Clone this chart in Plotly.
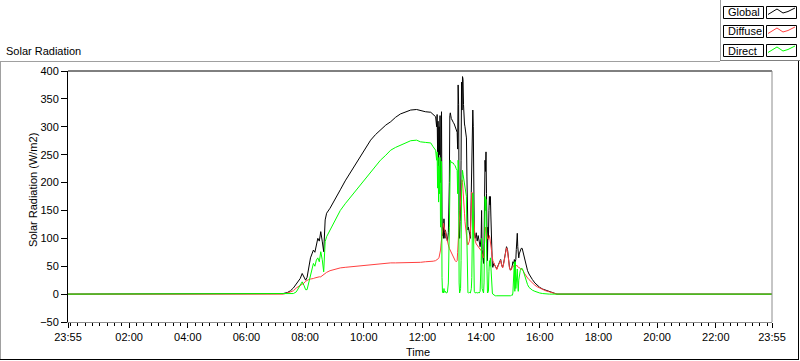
import plotly.graph_objects as go

# time in minutes after midnight (-5 = 23:55 of previous day)
minutes = [-5, 425, 435, 444, 450, 456, 462, 466, 470, 474, 478, 481, 484, 487, 491, 494, 497, 500,
           503, 506, 509, 512, 515, 518, 521, 524, 531, 542, 552, 562, 573, 583, 593, 604, 614, 624,
           634, 645, 655, 665, 675, 686, 696, 708, 716, 726, 737, 742, 747,
           749, 750, 751, 752, 753, 754, 755, 756, 757, 758, 759, 760, 761, 762, 763, 764, 765, 766,
           767, 769, 771, 773, 775, 776, 777, 779, 781, 783, 785, 787, 789, 791, 792, 793, 794, 795,
           796, 797, 798, 799, 800, 801, 802, 803, 804, 805, 806, 807, 808, 809, 810, 811, 812, 813,
           814, 816, 818, 819, 820, 821, 822, 823, 824, 825, 826, 828, 830, 832, 834, 836, 838, 840,
           841, 842, 844, 845, 846, 847, 848, 849, 850, 851, 852, 853, 854, 855, 856, 857, 858, 859,
           860, 861, 862, 863, 864, 866, 869, 872, 875, 878, 880, 882, 884, 886, 888, 890, 892, 894,
           896, 898, 900, 902, 904, 905, 907, 908, 909, 910, 911, 912, 913, 914, 915, 916, 917, 918,
           920, 922, 924, 926, 928, 930, 932, 935, 938, 941, 945, 950, 955, 960, 966, 972, 980, 987,
           995, 1435]

global_rad = [0, 0, 1, 3, 6, 11, 18, 22, 28, 37, 30, 25, 30, 45, 65, 72, 79, 75,
              91, 100, 95, 112, 95, 76, 133, 145, 154, 170, 187, 203, 218, 232, 246, 262, 276, 286,
              295, 303, 309, 317, 323, 327, 330, 331, 329, 327, 326, 322, 318,
              300, 322, 255, 310, 230, 300, 250, 320, 200, 290, 327, 140, 105, 120, 100, 135, 110, 100,
              115, 100, 95, 110, 200, 320, 325, 315, 310, 308, 305, 300, 296, 290, 260, 375, 340, 150,
              100, 130, 160, 240, 380, 330, 390, 385, 340, 310, 305, 300, 295, 290, 280, 210, 140, 115,
              120, 105, 100, 140, 180, 200, 250, 330, 300, 200, 110, 100, 110, 95, 105, 95, 85, 100,
              150, 80, 65, 55, 90, 180, 240, 220, 255, 180, 70, 60, 120, 100, 150, 175, 160, 175,
              140, 100, 60, 50, 48, 55, 50, 45, 52, 58, 62, 52, 48, 55, 65, 78, 85, 80,
              60, 48, 43, 45, 52, 58, 55, 62, 55, 60, 62, 80, 105, 109, 85, 70, 65, 72,
              78, 82, 82, 75, 67, 58, 50, 42, 36, 31, 26, 20, 15, 12, 9, 7, 4, 2,
              0, 0]

diffuse_rad = [0, 0, 0, 2, 4, 6, 11, 13, 15, 18, 20, 23, 25, 26, 27, 27, 28, 29,
               30, 30, 31, 31, 33, 35, 37, 39, 42, 45, 47, 48, 49, 50, 51, 52, 53, 54,
               55, 55, 56, 56, 56, 57, 57, 57, 57, 58, 58, 59, 60,
               61, 62, 62, 63, 64, 66, 70, 73, 79, 90, 100, 110, 118, 125, 127, 122, 118, 112,
               108, 100, 92, 88, 82, 80, 79, 76, 72, 68, 63, 60, 58, 60, 75, 100, 110, 130,
               140, 150, 160, 185, 200, 205, 200, 190, 180, 160, 145, 130, 120, 110, 100, 95, 90, 88,
               90, 95, 110, 140, 170, 183, 175, 160, 145, 120, 105, 95, 90, 88, 85, 82, 80, 78,
               76, 70, 66, 65, 70, 90, 110, 120, 118, 110, 105, 100, 100, 98, 100, 105, 100, 95,
               90, 80, 72, 65, 60, 56, 50, 44, 51, 57, 61, 52, 47, 54, 64, 77, 83, 78,
               59, 47, 43, 44, 50, 50, 50, 52, 50, 50, 50, 52, 52, 50, 48, 48, 48, 47,
               46, 45, 44, 42, 38, 35, 32, 29, 26, 23, 20, 16, 13, 11, 8, 6, 4, 2,
               0, 0]

direct_rad = [0, 0, 0, 0, 0, 1, 4, 10, 16, 22, 15, 8, 8, 20, 37, 45, 55, 50,
              61, 65, 58, 76, 62, 40, 94, 103, 115, 132, 150, 162, 174, 185, 196, 207, 217, 229,
              240, 249, 258, 263, 267, 271, 275, 276, 273, 272, 271, 264, 258,
              240, 255, 190, 245, 165, 230, 180, 245, 120, 200, 238, 30, 3, 5, 2, 10, 4, 3,
              5, 2, 3, 20, 120, 238, 240, 236, 235, 235, 232, 230, 225, 222, 180, 240, 220, 20,
              2, 5, 10, 60, 190, 213, 222, 215, 210, 205, 200, 195, 190, 185, 175, 95, 30, 3,
              2, 3, 2, 5, 10, 30, 120, 181, 150, 60, 5, 2, 3, 2, 3, 2, 5, 60,
              100, 10, 2, 2, 20, 120, 175, 150, 170, 90, 5, 2, 3, 5, 40, 60, 50, 65,
              40, 15, 3, 2, 0, -2, -3, -3, -3, -4, -4, -4, -3, -3, -4, -4, -4, -4,
              -4, -4, -3, -2, -2, 2, 35, 58, 5, 58, 10, 20, 40, 45, 20, 5, 25, 35,
              42, 46, 46, 42, 36, 30, 24, 17, 12, 9, 7, 5, 3, 2, 1, 0, 0, 0,
              0, 0]

tick_minutes = [-5, 120, 240, 360, 480, 600, 720, 840, 960, 1080, 1200, 1320, 1435]
tick_labels = ["23:55", "02:00", "04:00", "06:00", "08:00", "10:00", "12:00",
               "14:00", "16:00", "18:00", "20:00", "22:00", "23:55"]
y_ticks = [-50, 0, 50, 100, 150, 200, 250, 300, 350, 400]

series_names = ["Global", "Diffuse", "Direct"]
series_colors = ["#000000", "#ff4040", "#00ff00"]
series_values = [global_rad, diffuse_rad, direct_rad]

FONT = "Liberation Sans"
W, H = 800, 361
L, R, T, B = 68, 772, 71, 322


def px(x):
    return (x - L) / (R - L)


def py(y):
    return (B - y) / (B - T)


fig = go.Figure()
for name, color, vals in zip(series_names, series_colors, series_values):
    fig.add_trace(go.Scatter(x=minutes, y=vals, mode="lines", name=name,
                             line=dict(color=color, width=1), showlegend=False))

shapes = []
# plot frame: top & left black, right & bottom gray
shapes.append(dict(type="line", xref="paper", yref="paper", x0=0, x1=1, y0=1, y1=1,
                   line=dict(color="#000000", width=1)))
shapes.append(dict(type="line", xref="paper", yref="paper", x0=1, x1=1, y0=0, y1=1,
                   line=dict(color="#8c8c8c", width=1)))
# outer panel
shapes.append(dict(type="line", xref="paper", yref="paper", x0=px(0), x1=px(720),
                   y0=py(61.5), y1=py(61.5), line=dict(color="#a0a0a0", width=1)))
shapes.append(dict(type="line", xref="paper", yref="paper", x0=px(0.5), x1=px(0.5),
                   y0=py(61.5), y1=py(359), line=dict(color="#a0a0a0", width=1)))
shapes.append(dict(type="line", xref="paper", yref="paper", x0=px(0), x1=px(799),
                   y0=py(359.5), y1=py(359.5), line=dict(color="#000000", width=1)))
shapes.append(dict(type="line", xref="paper", yref="paper", x0=px(798.5), x1=px(798.5),
                   y0=py(61), y1=py(360), line=dict(color="#000000", width=1)))
# legend frame
shapes.append(dict(type="line", xref="paper", yref="paper", x0=px(720.5), x1=px(720.5),
                   y0=py(0), y1=py(61), line=dict(color="#a0a0a0", width=1)))
shapes.append(dict(type="line", xref="paper", yref="paper", x0=px(720), x1=px(800),
                   y0=py(60.5), y1=py(60.5), line=dict(color="#808080", width=1)))

annotations = []
row_tops = [6.5, 25.5, 44.5]
zig_x = [768, 777, 783, 788, 795]
zig_dy = [5, -0.5, 3.5, 2, -1.5]
for name, color, top in zip(series_names, series_colors, row_tops):
    shapes.append(dict(type="rect", xref="paper", yref="paper", x0=px(723.5), x1=px(763.5),
                       y0=py(top), y1=py(top + 12), line=dict(color="#000000", width=1),
                       fillcolor="#ffffff"))
    shapes.append(dict(type="rect", xref="paper", yref="paper", x0=px(766.5), x1=px(796.5),
                       y0=py(top), y1=py(top + 12), line=dict(color="#000000", width=1),
                       fillcolor="#ffffff"))
    path = "M " + " L ".join(f"{px(zx):.5f},{py(top + 3 + d):.5f}" for zx, d in zip(zig_x, zig_dy))
    shapes.append(dict(type="path", xref="paper", yref="paper", path=path,
                       line=dict(color=color, width=1)))
    annotations.append(dict(text=name, xref="paper", yref="paper", x=px(725.5), y=py(top + 6),
                            xanchor="left", yanchor="middle", showarrow=False,
                            font=dict(family=FONT, size=11, color="#000000")))

annotations.append(dict(text="Solar Radiation", xref="paper", yref="paper", x=px(4), y=py(51),
                        xanchor="left", yanchor="middle", showarrow=False,
                        font=dict(family=FONT, size=11, color="#000000")))
annotations.append(dict(text="Solar Radiation (W/m2)", xref="paper", yref="paper", x=px(33),
                        y=py(190), textangle=-90, xanchor="center", yanchor="middle",
                        showarrow=False, font=dict(family=FONT, size=11, color="#000000")))
annotations.append(dict(text="Time", xref="paper", yref="paper", x=px(418), y=py(352),
                        xanchor="center", yanchor="middle", showarrow=False,
                        font=dict(family=FONT, size=11, color="#000000")))

fig.update_layout(
    width=W, height=H,
    margin=dict(l=L, r=W - R, t=T, b=H - B, pad=0),
    paper_bgcolor="#ffffff", plot_bgcolor="#ffffff",
    showlegend=False,
    shapes=shapes, annotations=annotations,
    xaxis=dict(range=[-5, 1435], tickmode="array", tickvals=tick_minutes, ticktext=tick_labels,
               ticks="outside", ticklen=5, tickcolor="#000000", tickwidth=1,
               showline=True, linecolor="#8c8c8c", linewidth=1,
               showgrid=False, zeroline=False,
               tickfont=dict(family=FONT, size=11, color="#000000"),
               minor=dict(tickmode="linear", tick0=0, dtick=15, ticks="outside", ticklen=3,
                          tickcolor="#000000", tickwidth=1, showgrid=False)),
    yaxis=dict(range=[-50, 400], tickmode="array", tickvals=y_ticks,
               ticks="outside", ticklen=6, tickcolor="#000000", tickwidth=1,
               showline=True, linecolor="#000000", linewidth=1,
               showgrid=False, zeroline=False,
               tickfont=dict(family=FONT, size=11, color="#000000")),
)

fig.write_html("out.html", config={"displayModeBar": False},
               post_script="document.body.style.margin='0px';document.body.style.overflow='hidden';")
